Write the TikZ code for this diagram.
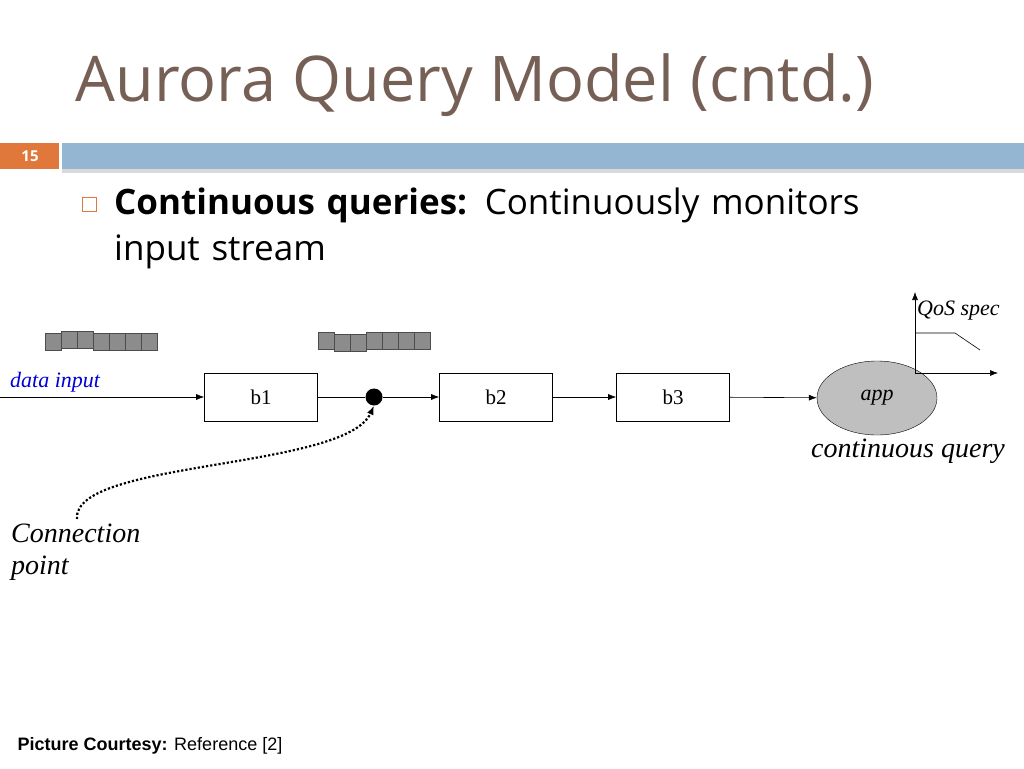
\documentclass[tikz,border=0pt]{standalone}
\usepackage{fontspec}
\setmainfont{Liberation Serif}
\newfontfamily\osans{Open Sans}
\newfontfamily\lsans{Liberation Sans}
\usetikzlibrary{arrows.meta,shapes.geometric}
\definecolor{titlec}{RGB}{118,96,86}
\definecolor{barblue}{RGB}{148,182,210}
\definecolor{orng}{RGB}{224,120,60}
\begin{document}
\begin{tikzpicture}[x=1pt,y=-1pt,
 box/.style={draw,line width=0.6pt,minimum width=113pt,minimum height=48pt,font=\fontsize{21}{24}\selectfont},
 arr/.style={-{Latex[length=8pt,width=6pt]},line width=0.6pt},
 sq/.style={draw=black!70,fill=black!45,line width=0.8pt}]
\useasboundingbox (0,0) rectangle (1024,768);
\node[anchor=west,text=titlec,font=\osans\fontsize{63}{70}\selectfont] (title) at (72,85) {Aurora Query Model (cntd.)};
\fill[barblue] (62,143) rectangle (1024,169);
\fill[black!15] (62,169) rectangle (1024,173);
\fill[orng] (0,143) rectangle (59,169);
\node[text=white,font=\osans\bfseries\fontsize{15}{18}\selectfont] (num) at (30,156) {15};
\draw[orng,line width=0.8pt] (82,197) rectangle (96,211);
\node[anchor=north west,align=left,text width=830pt,font=\osans\fontsize{35}{46}\selectfont,inner sep=0pt] (bullet) at (114,188) {\textbf{Continuous queries:} Continuously monitors\\input stream};
% queues
\foreach \x/\d in {45/0,61/-2,77/-2,93/0,109/0,125/0,141/0}{\draw[sq] (\x,333+\d) rectangle ++(16,17);}
\foreach \x/\d in {318/0,334/2,350/2,366/0,382/0,398/0,414/0}{\draw[sq] (\x,332+\d) rectangle ++(16,17);}
\node[box] (b1) at (261,397) {b1};
\node[box] (b2) at (496,397) {b2};
\node[box] (b3) at (673,397) {b3};
\node[ellipse,draw,fill=black!25,minimum width=120pt,minimum height=74pt,font=\itshape\fontsize{22}{24}\selectfont] (app) at (877,398) {app};
\coordinate (in) at (0,397);
\node[circle,fill=black,inner sep=0pt,minimum size=17pt] (cp) at (374,397) {};
\draw[arr] (in) -- (b1);
\draw[line width=0.6pt] (b1) -- (cp);
\draw[arr] (cp) -- (b2);
\draw[arr] (b2) -- (b3);
\draw[arr] (b3) -- (app);
\node[anchor=south west,text=blue!85!black,font=\itshape\fontsize{22}{24}\selectfont,inner sep=1pt] (di) at (9,393) {data input};
\node[font=\itshape\fontsize{28}{32}\selectfont] (cq) at (908,451) {continuous query};
\node[anchor=north west,align=left,font=\itshape\fontsize{28}{32}\selectfont,inner sep=0pt] (conn) at (11,524) {Connection\\point};
\coordinate (cs) at (77,519);
\draw[dotted,line width=2.2pt,-{Latex[length=9pt,width=7pt]}] (cs) .. controls (72,460) and (345,470) .. (cp.south);
% QoS
\coordinate (o) at (915,373);
\coordinate (yt) at (915,292);
\coordinate (xt) at (998,373);
\draw[arr] (o) -- (yt);
\draw[arr] (o) -- (xt);
\coordinate (q1) at (915,333);
\coordinate (q2) at (955,333);
\coordinate (q3) at (980,350);
\draw[line width=0.6pt] (q1) -- (q2) -- (q3);
\node[anchor=west,font=\itshape\fontsize{22}{24}\selectfont,inner sep=1pt] (qos) at (916,311) {QoS spec};
\node[anchor=west,font=\lsans\fontsize{18}{21}\selectfont] (pc) at (14,746) {\textbf{Picture Courtesy:} Reference [2]};
\end{tikzpicture}
\end{document}
